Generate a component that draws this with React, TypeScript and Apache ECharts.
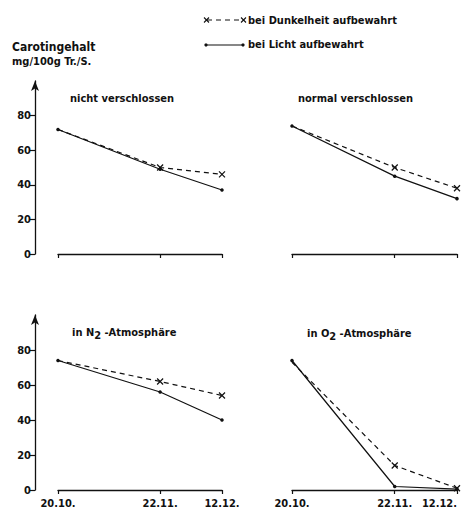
import React, { useEffect, useRef } from "react";
import * as echarts from "echarts";

// days since 20.10.
const dayValues = [0, 33, 53];
const dateLabels = ["20.10.", "22.11.", "12.12."];
const yTicks = [0, 20, 40, 60, 80];

const panelTitles = ["nicht verschlossen", "normal verschlossen", "in N|2| -Atmosphäre", "in O|2| -Atmosphäre"];

// bei Licht aufbewahrt (solid, dots)
const lichtTL = [72, 49, 37];
const lichtTR = [74, 45, 32];
const lichtBL = [74, 56, 40];
const lichtBR = [74, 2, 0.5];
// bei Dunkelheit aufbewahrt (dashed, x)
const dunkelTL = [72, 50, 46];
const dunkelTR = [74, 50, 38];
const dunkelBL = [74, 62, 54];
const dunkelBR = [73, 14, 1];

const legendDunkel = "bei Dunkelheit aufbewahrt";
const legendLicht = "bei Licht aufbewahrt";
const yTitle1 = "Carotingehalt";
const yTitle2 = "mg/100g Tr./S.";

const FONT = "DejaVu Sans Condensed";
const X_SYMBOL = "path://M0,0L10,10M10,0L0,10";

export default function App() {
  const ref = useRef<HTMLDivElement>(null);
  useEffect(() => {
    const chart = echarts.init(ref.current!, null, { renderer: "svg" });
    const grids = [
      { left: 58, width: 164, top: 81, height: 173 },
      { left: 292, width: 165, top: 81, height: 173 },
      { left: 58, width: 164, top: 315, height: 175 },
      { left: 292, width: 165, top: 315, height: 175 },
    ];
    const lichtAll = [lichtTL, lichtTR, lichtBL, lichtBR];
    const dunkelAll = [dunkelTL, dunkelTR, dunkelBL, dunkelBR];
    const labelStyle = { fontFamily: FONT, fontWeight: "bold" as const, fontSize: 11, color: "#111" };

    const xAxis = grids.map((_, i) => ({
      type: "value",
      gridIndex: i,
      min: 0,
      max: 53,
      axisLine: { show: true, lineStyle: { color: "#111", width: 1.3 } },
      axisTick: { show: true, customValues: dayValues, length: 4, lineStyle: { color: "#111", width: 1.2 } },
      axisLabel: {
        show: i >= 2,
        customValues: dayValues,
        formatter: (v: number) => dateLabels[dayValues.indexOf(v)] ?? "",
        margin: 8,
        alignMaxLabel: i === 3 ? "right" : "center",
        ...labelStyle,
      },
      splitLine: { show: false },
    }));

    const yAxis = grids.map((_, i) => ({
      type: "value",
      gridIndex: i,
      min: 0,
      max: 100,
      show: i % 2 === 0,
      offset: 23,
      axisLine: {
        show: true,
        onZero: false,
        symbol: ["none", "arrow"],
        symbolSize: [6, 10],
        lineStyle: { color: "#111", width: 1.3 },
      },
      axisTick: { show: true, customValues: yTicks, length: 5, lineStyle: { color: "#111", width: 1.2 } },
      axisLabel: { show: true, customValues: yTicks, margin: 4, ...labelStyle },
      splitLine: { show: false },
    }));

    const series: any[] = [];
    grids.forEach((_, i) => {
      series.push({
        type: "line",
        name: legendDunkel,
        xAxisIndex: i,
        yAxisIndex: i,
        data: dayValues.map((d, k) => [d, dunkelAll[i][k]]),
        symbol: X_SYMBOL,
        symbolSize: (_v: any, p: any) => (p.dataIndex === 0 ? 0 : 6),
        lineStyle: { color: "#111", width: 1.2, type: [5, 4] },
        itemStyle: { color: "#111", borderColor: "#111", borderWidth: 1.2 },
        z: 2,
      });
      series.push({
        type: "line",
        name: legendLicht,
        xAxisIndex: i,
        yAxisIndex: i,
        data: dayValues.map((d, k) => [d, lichtAll[i][k]]),
        symbol: "circle",
        symbolSize: 3.5,
        lineStyle: { color: "#111", width: 1.2, type: "solid" },
        itemStyle: { color: "#111" },
        z: 3,
      });
    });

    const textStyle = (t: string) => ({ text: t, fontFamily: FONT, fontWeight: "bold", fontSize: 11, fill: "#111" });
    const titlePos = [
      [70, 98],
      [298, 98],
      [72, 332],
      [307, 333],
    ];
    const titleGraphics = panelTitles.map((t, i) => {
      const parts = t.split("|");
      const txt = parts.length === 3 ? `{a|${parts[0]}}{s|${parts[1]}}{a|${parts[2]}}` : `{a|${t}}`;
      return {
        type: "text",
        x: titlePos[i][0],
        y: titlePos[i][1],
        style: {
          text: txt,
          verticalAlign: "middle",
          rich: {
            a: { fontFamily: FONT, fontWeight: "bold", fontSize: 11, fill: "#111" },
            s: { fontFamily: FONT, fontWeight: "bold", fontSize: 11, fill: "#111", padding: [7, 0, 0, 0] },
          },
        },
      };
    });

    const graphic: any[] = [
      // legend: Dunkelheit
      { type: "line", shape: { x1: 207, y1: 20, x2: 244, y2: 20 }, style: { stroke: "#111", lineWidth: 1.2, lineDash: [5, 4] } },
      { type: "line", shape: { x1: 204, y1: 17.5, x2: 209, y2: 22.5 }, style: { stroke: "#111", lineWidth: 1.1 } },
      { type: "line", shape: { x1: 209, y1: 17.5, x2: 204, y2: 22.5 }, style: { stroke: "#111", lineWidth: 1.1 } },
      { type: "line", shape: { x1: 241, y1: 17.5, x2: 246, y2: 22.5 }, style: { stroke: "#111", lineWidth: 1.1 } },
      { type: "line", shape: { x1: 246, y1: 17.5, x2: 241, y2: 22.5 }, style: { stroke: "#111", lineWidth: 1.1 } },
      { type: "text", x: 248, y: 20, style: { ...textStyle(legendDunkel), verticalAlign: "middle" } },
      // legend: Licht
      { type: "line", shape: { x1: 206, y1: 45, x2: 243, y2: 45 }, style: { stroke: "#111", lineWidth: 1.2 } },
      { type: "circle", shape: { cx: 206, cy: 45, r: 1.6 }, style: { fill: "#111" } },
      { type: "circle", shape: { cx: 243, cy: 45, r: 1.6 }, style: { fill: "#111" } },
      { type: "text", x: 248, y: 44, style: { ...textStyle(legendLicht), verticalAlign: "middle" } },
      // y title
      { type: "text", x: 12, y: 47, style: { ...textStyle(yTitle1), fontSize: 12, verticalAlign: "middle" } },
      { type: "text", x: 12, y: 61, style: { ...textStyle(yTitle2), verticalAlign: "middle" } },
      ...titleGraphics,
    ];

    chart.setOption({
      animation: false,
      backgroundColor: "#fff",
      grid: grids.map((g) => ({ ...g, containLabel: false })),
      xAxis,
      yAxis,
      series,
      graphic,
    });
    return () => chart.dispose();
  }, []);
  return <div ref={ref} style={{ position: "fixed", left: 0, top: 0, width: 470, height: 512 }} />;
}
